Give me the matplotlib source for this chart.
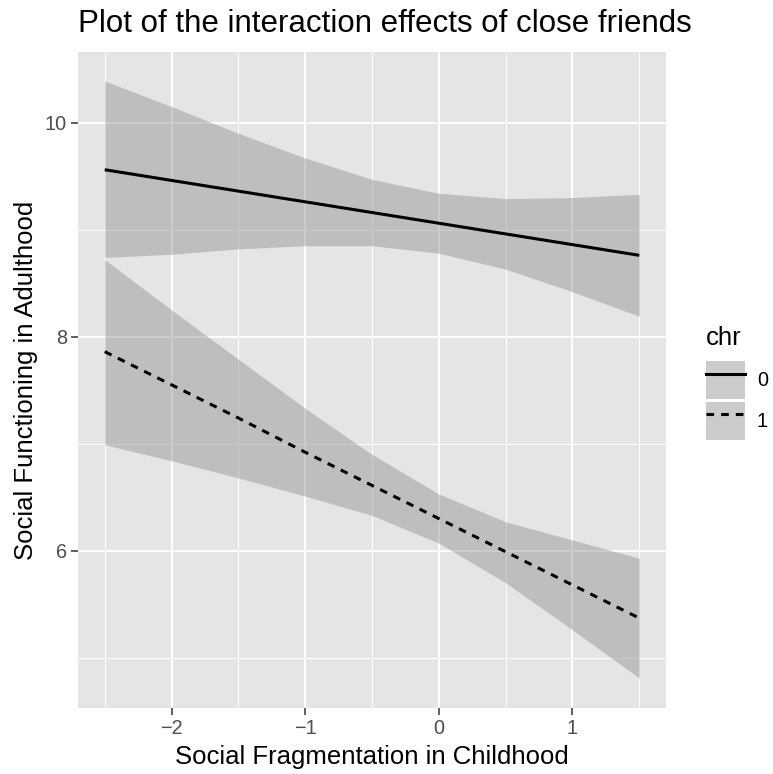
import matplotlib
matplotlib.use("Agg")
import matplotlib.pyplot as plt
from matplotlib.lines import Line2D
from matplotlib.patches import Patch

plt.rcParams["font.family"] = ["Liberation Sans", "DejaVu Sans"]

# predicted values
x_vals = [-2.5, -2.0, -1.5, -1.0, -0.5, 0.0, 0.5, 1.0, 1.5]

fit_0 = [9.56, 9.46, 9.36, 9.26, 9.16, 9.06, 8.96, 8.86, 8.76]
low_0 = [8.74, 8.77, 8.82, 8.85, 8.85, 8.78, 8.63, 8.42, 8.19]
high_0 = [10.39, 10.15, 9.90, 9.67, 9.47, 9.34, 9.29, 9.30, 9.33]

fit_1 = [7.86, 7.55, 7.24, 6.92, 6.61, 6.30, 5.99, 5.68, 5.37]
low_1 = [6.99, 6.84, 6.68, 6.51, 6.33, 6.07, 5.70, 5.26, 4.81]
high_1 = [8.72, 8.25, 7.79, 7.33, 6.90, 6.53, 6.27, 6.10, 5.93]

groups = ["0", "1"]
x_ticks = [-2, -1, 0, 1]
x_minor = [-2.5, -1.5, -0.5, 0.5, 1.5]
y_ticks = [6, 8, 10]
y_minor = [5, 7, 9]

title = "Plot of the interaction effects of close friends"
x_title = "Social Fragmentation in Childhood"
y_title = "Social Functioning in Adulthood"

W, H = 773, 774
fig = plt.figure(figsize=(W / 100, H / 100), dpi=100)
ax = fig.add_axes([78 / W, 1 - 708 / H, (666 - 78) / W, (708 - 52) / H])

panel_bg = "#E5E5E5"
ax.set_facecolor(panel_bg)
for s in ax.spines.values():
    s.set_visible(False)

# grid
for v in x_minor:
    ax.axvline(v, color="white", lw=0.7, zorder=0.5)
for v in y_minor:
    ax.axhline(v, color="white", lw=0.7, zorder=0.5)
for v in x_ticks:
    ax.axvline(v, color="white", lw=1.4, zorder=0.6)
for v in y_ticks:
    ax.axhline(v, color="white", lw=1.4, zorder=0.6)

ribbon = "#999999"
dash = (0, (2.5, 2.3))
ax.fill_between(x_vals, low_0, high_0, color=ribbon, alpha=0.5, lw=0, zorder=1)
ax.fill_between(x_vals, low_1, high_1, color=ribbon, alpha=0.5, lw=0, zorder=1)
ax.plot(x_vals, fit_0, color="black", lw=2.2, solid_capstyle="butt", zorder=2)
ax.plot(x_vals, fit_1, color="black", lw=2.2, linestyle=dash,
        dash_capstyle="butt", zorder=2)

ax.set_xlim(-2.7, 1.7)
ax.set_ylim(4.53, 10.66)
ax.set_xticks(x_ticks)
ax.set_xticklabels(["\u22122", "\u22121", "0", "1"])
ax.set_yticks(y_ticks)
ax.tick_params(axis="both", length=5, width=1.1, color="#333333",
               labelcolor="#4D4D4D", labelsize=14.3, pad=3)

ax.set_xlabel(x_title, fontsize=18.5, labelpad=5)
ax.set_ylabel(y_title, fontsize=18.5, labelpad=5)

fig.text(78 / W, 1 - 32 / H, title, fontsize=22.5, ha="left", va="baseline")

# legend
key_fill = "#CBCBCB"
handles = [
    (Patch(facecolor=key_fill, edgecolor="none"),
     Line2D([], [], color="black", lw=2.2)),
    (Patch(facecolor=key_fill, edgecolor="none"),
     Line2D([], [], color="black", lw=2.2, linestyle=dash)),
]
leg = fig.legend(handles, groups, title="chr", loc="upper left",
                 bbox_to_anchor=(706 / W, 1 - 326 / H), frameon=False,
                 fontsize=14.3, title_fontsize=18.5, handlelength=1.96,
                 handleheight=2.55, labelspacing=0.15, handletextpad=0.6,
                 borderpad=0, borderaxespad=0)
leg._legend_box.align = "left"
leg._legend_box.sep = 8

fig.savefig("out.png", dpi=100)
